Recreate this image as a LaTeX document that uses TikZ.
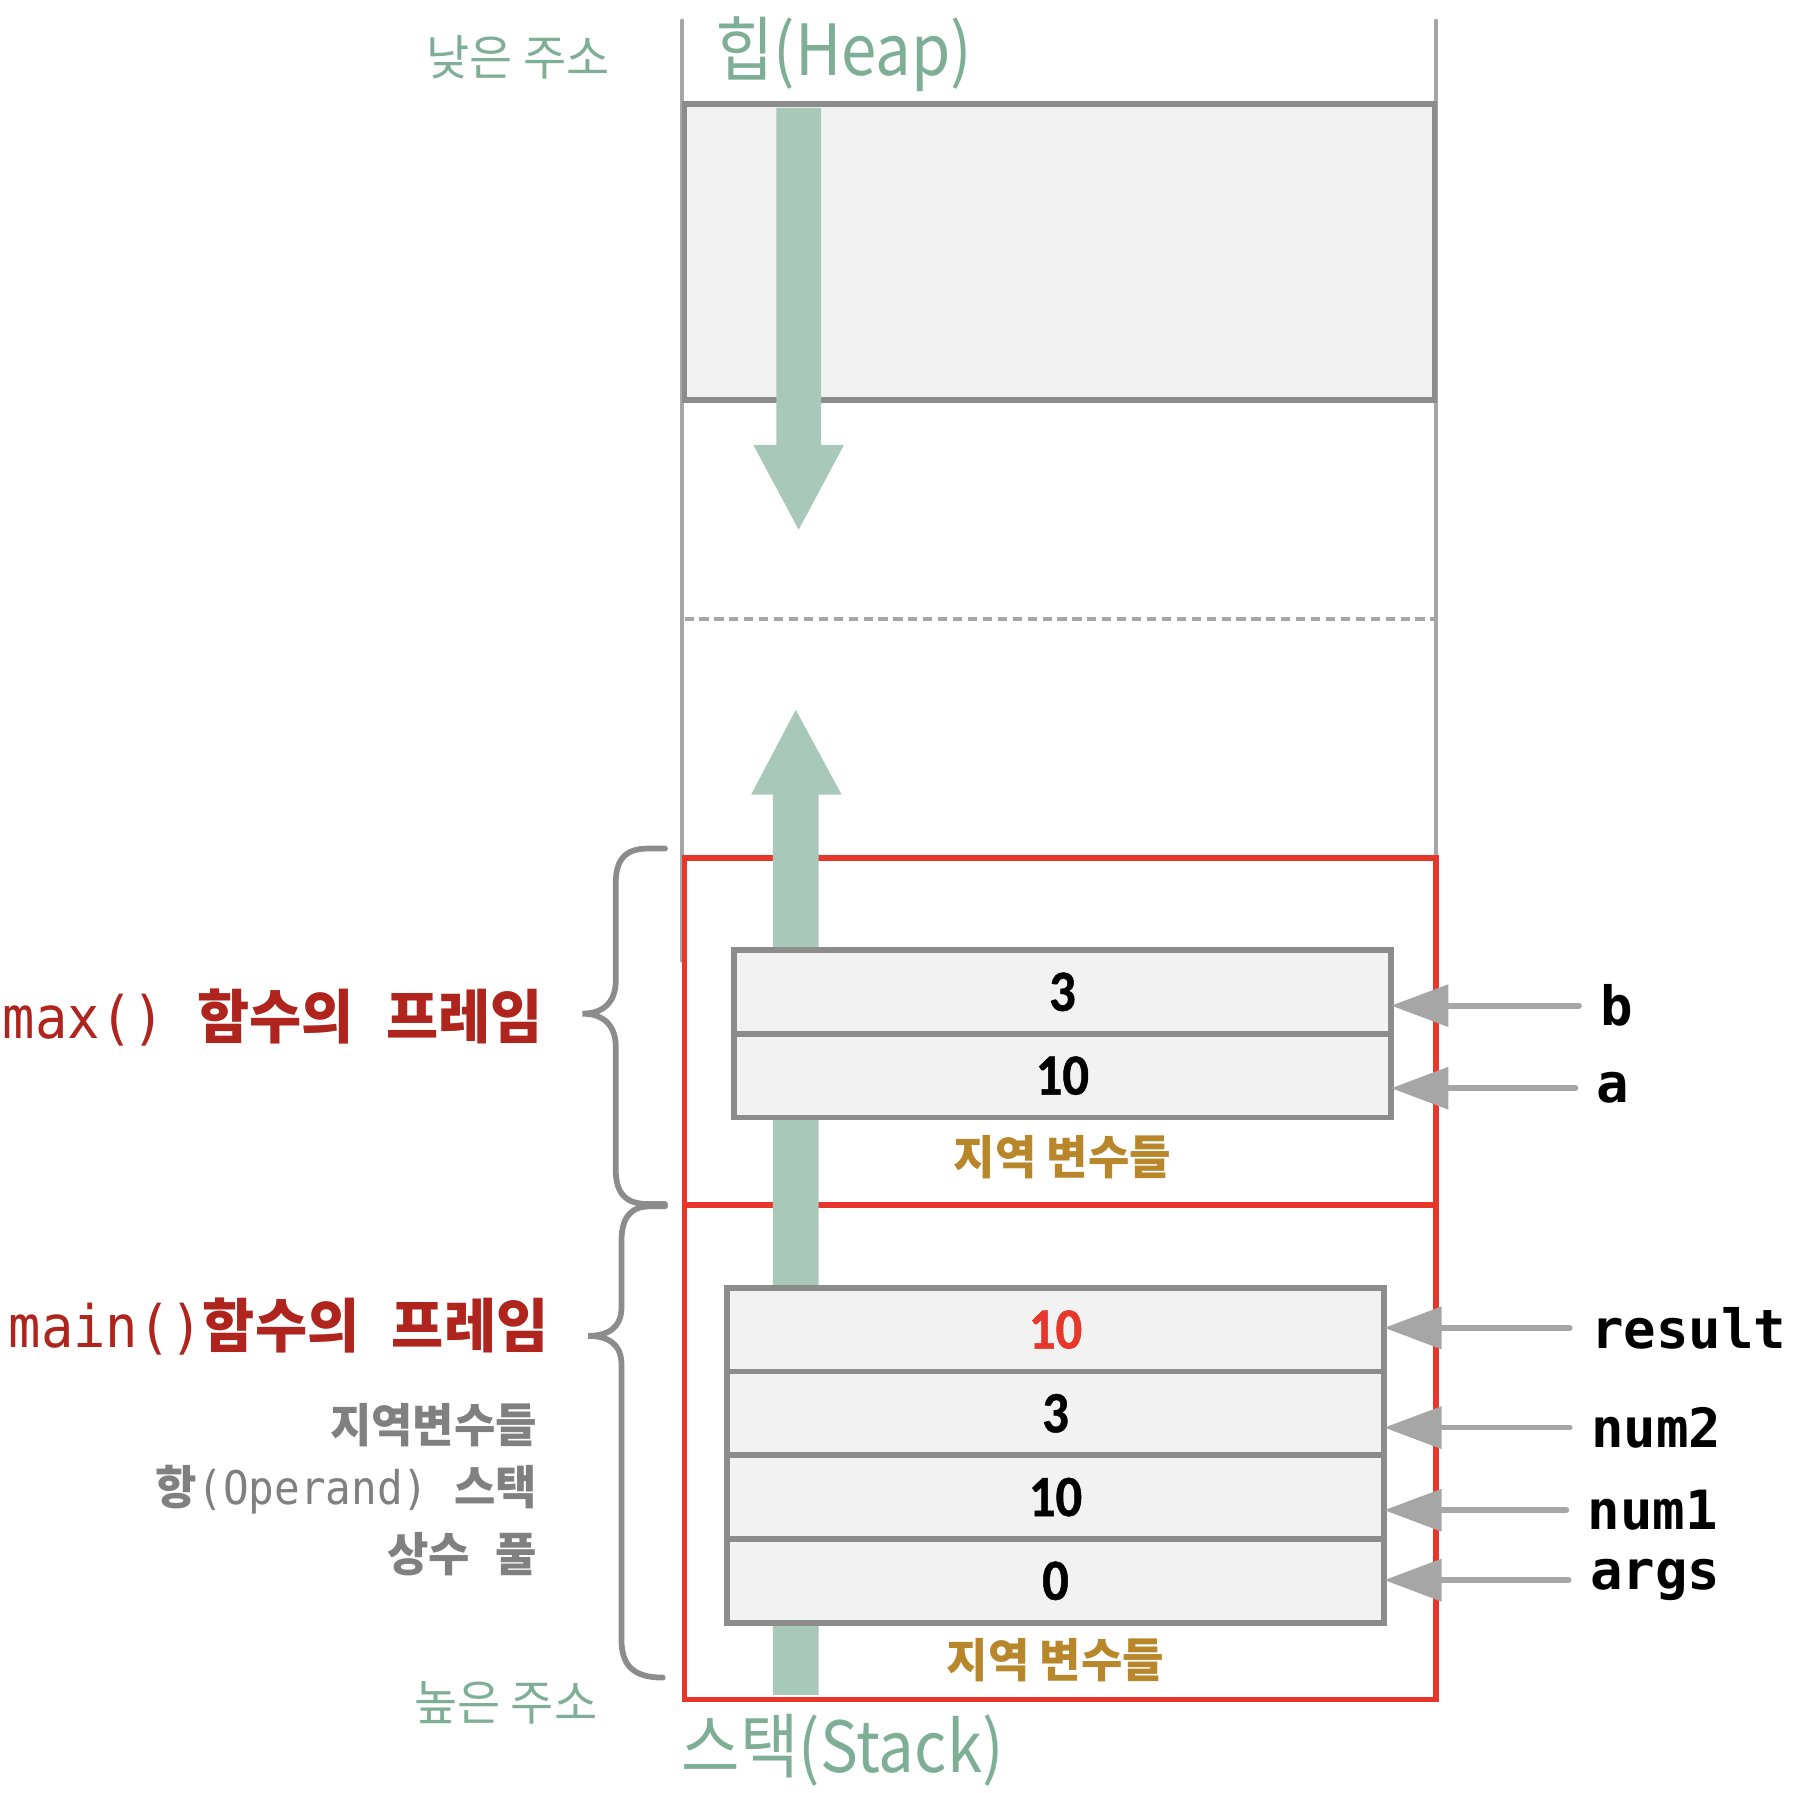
\documentclass[tikz,border=0pt]{standalone}
\usepackage{fontspec}
\usetikzlibrary{arrows.meta,positioning}
\newfontfamily\kofont[FakeStretch=0.97]{Noto Sans CJK KR}
\newfontfamily\kotitle[FakeStretch=0.9]{Noto Sans CJK KR}
\newfontfamily\codefont{DejaVu Sans Mono}
\newfontfamily\codecond[FakeStretch=0.92]{DejaVu Sans Mono}
\newfontfamily\digitfont[FakeStretch=0.9,FakeBold=0.8]{Carlito Bold}
\definecolor{addrgreen}{HTML}{7FAE96}
\definecolor{arrowgreen}{HTML}{A8C8BA}
\definecolor{framered}{HTML}{E8362A}
\definecolor{labelred}{HTML}{B0241E}
\definecolor{boxgray}{HTML}{8C8C8C}
\definecolor{linegray}{HTML}{A6A6A6}
\definecolor{boxfill}{HTML}{F2F2F2}
\definecolor{localgold}{HTML}{B8862B}
\definecolor{notegray}{HTML}{808080}
\tikzset{
  cell/.style={draw=boxgray,fill=boxfill,line width=.05cm,minimum width=5.73cm,
    minimum height=.73cm,inner sep=0pt,outer sep=0pt,
    font=\digitfont\fontsize{14.5}{16}\selectfont},
  ptr/.style={draw=linegray,line width=.05cm,line cap=round,
    -{Triangle[length=.5cm,width=.36cm]}},
  varname/.style={anchor=west,inner sep=0pt,font=\codefont\bfseries\fontsize{13.4}{15}\selectfont},
  addr/.style={inner sep=0pt,text=addrgreen,font=\kofont\fontsize{12}{14}\selectfont},
  area/.style={inner sep=0pt,anchor=west,text=addrgreen,font=\kotitle\fontsize{17.5}{20}\selectfont},
  framelbl/.style={inner sep=0pt,anchor=east,text=labelred,font=\kofont\bfseries\fontsize{14.5}{17}\selectfont},
  note/.style={inner sep=0pt,anchor=east,text=notegray,font=\kofont\bfseries\fontsize{11.5}{14}\selectfont},
  localvars/.style={inner sep=0pt,text=localgold,font=\kofont\bfseries\fontsize{11.5}{14}\selectfont},
  framebrace/.style={draw=boxgray,line width=.05cm,line cap=round},
  frame/.style={draw=framered,line width=.05cm}
}
\begin{document}
\begin{tikzpicture}[x=.01cm,y=-.01cm]
  \useasboundingbox (0,0) rectangle (1568,1563);
  % memory area walls
  \draw[linegray,line width=.035cm,line cap=round] (595,18) -- (595,838);
  \draw[linegray,line width=.035cm,line cap=round] (1252,18) -- (1252,748);
  \draw[draw=boxgray,fill=boxfill,line width=.05cm] (597,91) rectangle (1251,349);
  \draw[linegray,line width=.03cm,dash pattern=on .08cm off .05cm] (597,540) -- (1251,540);
  % frames
  \draw[frame] (597,748) rectangle (1252,1051);
  \draw[frame] (597,1051) rectangle (1252,1482);
  % growth arrows
  \fill[arrowgreen] (677,94) -- (716,94) -- (716,388) -- (736,388) -- (696.5,462)
    -- (657,388) -- (677,388) -- cycle;
  \fill[arrowgreen] (674,1478) -- (714,1478) -- (714,693) -- (734,693) -- (694,619)
    -- (655,693) -- (674,693) -- cycle;
  % braces
  \draw[framebrace] (580,740) -- (565,740) .. controls (545,740) and (537,750) .. (537,770)
    -- (537,855) .. controls (537,875) and (525,884) .. (508,884)
    .. controls (525,884) and (537,893) .. (537,913) -- (537,1020)
    .. controls (537,1040) and (545,1050) .. (565,1050) -- (580,1050);
  \draw[framebrace] (580,1052) -- (567,1052) .. controls (550,1052) and (542,1062) .. (542,1082)
    -- (542,1140) .. controls (542,1158) and (530,1165) .. (513,1165)
    .. controls (530,1165) and (542,1172) .. (542,1190) -- (542,1430)
    .. controls (542,1452) and (552,1463) .. (578,1463);

  % max() frame
  \node[cell] (mb) at (926.5,865) {3};
  \node[cell,below=0pt of mb] (ma) {10};
  \node[localvars,below=.15cm of ma] (maxvars) {지역 변수들};
  % main() frame
  \node[cell] (mres) at (920.5,1159.5) {\color{framered}10};
  \node[cell,below=0pt of mres] (mnum2) {3};
  \node[cell,below=0pt of mnum2] (mnum1) {10};
  \node[cell,below=0pt of mnum1] (margs) {0};
  \node[localvars,below=.13cm of margs] (mainvars) {지역 변수들};

  % variable names
  \node[varname] (vb) at (1395,877) {b};
  \node[varname] (va) at (1392,949) {a};
  \node[varname] (vres) at (1387,1158) {result};
  \node[varname] (vnum2) at (1387,1245) {num2};
  \node[varname] (vnum1) at (1384,1317) {num1};
  \node[varname] (vargs) at (1386,1378) {args};
  \foreach \v/\c in {vb/mb,va/ma,vres/mres,vnum2/mnum2,vnum1/mnum1,vargs/margs}
    \draw[ptr] ([xshift=-.18cm]\v.west) -- (\v.west -| \c.east);

  % labels
  \node[addr] (low) at (452,50) {낮은 주소};
  \node[addr] (high) at (441,1485) {높은 주소};
  \node[area] (heap) at (623,47) {힙(Heap)};
  \node[area] (stack) at (594,1526) {스택(Stack)};
  \node[framelbl] (maxlbl) at (474,887) {{\codecond\mdseries max()\ }함수의{\codecond\ }프레임};
  \node[framelbl] (mainlbl) at (479,1157) {{\codecond\mdseries main()}함수의{\codecond\ }프레임};
  \node[note] (n1) at (469,1243) {지역변수들};
  \node[note] (n2) at (469,1299) {항{\codecond\mdseries(Operand)\ }스택};
  \node[note] (n3) at (469,1355) {상수{\codecond\ }풀};
\end{tikzpicture}
\end{document}
